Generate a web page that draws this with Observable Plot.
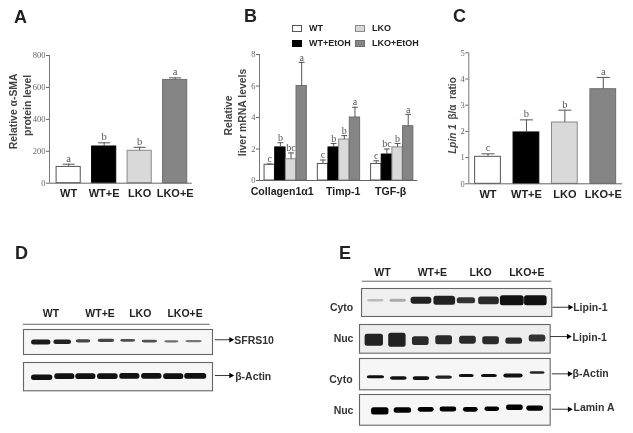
<!DOCTYPE html>
<html><head><meta charset="utf-8">
<script src="https://cdn.jsdelivr.net/npm/d3@7"></script>
<script src="https://cdn.jsdelivr.net/npm/@observablehq/plot@0.6"></script>
<style>
html,body{margin:0;padding:0;background:#fff}
#fig{position:relative;width:633px;height:433px;overflow:hidden;filter:blur(0.55px);font-family:"Liberation Sans",Arial,sans-serif;color:#222}
#fig>svg{position:absolute}
.letter{position:absolute;font-size:18px;font-weight:bold;line-height:18px}
.lg{position:absolute;font-size:9px;font-weight:bold;line-height:10px}
.sw{position:absolute;width:10px;height:7px;box-sizing:border-box;border:1px solid #555}
</style></head><body><div id="fig"></div>
<script>
// ---------- shared ----------
const groups = ["WT","WT+E","LKO","LKO+E"];
const seriesFill = ["#ffffff","#000000","#d9d9d9","#858585"];
const seriesStroke = ["#555555","#000000","#8a8a8a","#6f6f6f"];
// ---------- panel A ----------
const aValues = [102,230,203,647];
const aErrors = [119,253,225,660];
const aLetters = ["a","b","b","a"];
const aTicks = [0,200,400,600,800];
// ---------- panel B ----------
const bGenes = ["Collagen1α1","Timp-1","TGF-β"];
const bSlots = [0,1,2,3,5,6,7,8,10,11,12,13];
const bValues = [1.0,2.1,1.35,6.0, 1.05,2.1,2.6,4.0, 1.05,1.65,2.1,3.45];
const bErrors = [1.05,2.4,1.75,7.5, 1.3,2.35,2.85,4.65, 1.25,2.0,2.35,4.2];
const bLetters = ["c","b","bc","a","c","b","b","a","c","bc","b","a"];
const bTicks = [0,2,4,6,8];
const bLegend = ["WT","WT+EtOH","LKO","LKO+EtOH"];
// ---------- panel C ----------
const cValues = [1.03,1.96,2.34,3.61];
const cErrors = [1.145,2.44,2.81,4.06];
const cLetters = ["c","b","b","a"];
const cTicks = [0,1,2,3,4,5];
// ---------- panel D blots ----------
const d1Center = [.75,1.66,2.54,3.51,4.43,5.35,6.28,7.22];
const d1Width = [.82,.75,.62,.7,.63,.65,.6,.7];
const d1Y = [.52,.51,.47,.45,.45,.48,.49,.48];
const d1Thick = [.2,.18,.13,.13,.11,.11,.09,.09];
const d1Shade = ["#1c1c1c","#222","#444","#444","#505050","#505050","#707070","#777"];
const d2Center = [.79,1.75,2.64,3.57,4.5,5.43,6.36,7.29];
const d2Width = [.9,.85,.85,.87,.85,.86,.85,.93];
const d2Y = [.54,.5,.5,.5,.49,.49,.5,.49];
const d2Thick = [.2,.2,.2,.2,.2,.2,.2,.2];
const d2Shade = ["#111","#111","#111","#111","#111","#111","#111","#111"];
// ---------- panel E blots ----------
const e1Center = [.6,1.54,2.52,3.5,4.41,5.36,6.34,7.33];
const e1Width = [.7,.7,.87,.91,.77,.87,1.0,.95];
const e1Y = [.44,.44,.44,.44,.44,.44,.44,.44];
const e1Thick = [.09,.11,.25,.32,.21,.28,.36,.36];
const e1Shade = ["#bbb","#aaa","#222","#222","#333","#2a2a2a","#111","#111"];
const e2Center = [.62,1.59,2.57,3.55,4.55,5.52,6.49,7.47];
const e2Width = [.77,.73,.7,.7,.7,.7,.7,.7];
const e2Y = [.55,.55,.58,.55,.55,.57,.58,.49];
const e2Thick = [.42,.49,.31,.31,.28,.28,.21,.24];
const e2Shade = ["#222","#222","#2a2a2a","#2a2a2a","#2a2a2a","#2a2a2a","#2a2a2a","#333"];
const e3Center = [.69,1.65,2.6,3.55,4.5,5.45,6.46,7.47];
const e3Width = [.73,.7,.7,.7,.63,.67,.81,.63];
const e3Y = [.6,.64,.64,.61,.56,.56,.56,.46];
const e3Thick = [.1,.11,.12,.1,.1,.1,.13,.08];
const e3Shade = ["#111","#111","#111","#222","#111","#111","#111","#222"];
const e4Center = [.87,1.82,2.8,3.73,4.67,5.57,6.52,7.37];
const e4Width = [.73,.73,.67,.7,.62,.62,.7,.7];
const e4Y = [.55,.52,.5,.49,.5,.48,.43,.46];
const e4Thick = [.23,.18,.16,.16,.15,.14,.18,.17];
const e4Shade = ["#000","#000","#000","#000","#000","#000","#000","#000"];
const dHeader = [1.16,3.24,4.94,6.84];
const eHeader = [.88,2.98,5.01,6.95];

const fig = document.getElementById("fig");
const SANS = "Liberation Sans", SERIF = "Liberation Serif";

function place(svg,left,top){svg.style.left=left+"px";svg.style.top=top+"px";svg.style.background="transparent";fig.appendChild(svg);}

function barChart(o){
  const rows = o.values.map((v,i)=>({c:o.centers[i],v,e:o.errors[i],l:o.letters[i],k:o.kind(i)}));
  const yMax = o.yTicks[o.yTicks.length-1];
  const svg = Plot.plot({
    width:o.width,height:o.height,marginLeft:o.ml,marginRight:o.mr,marginTop:o.mt,marginBottom:o.mb,
    style:{background:"transparent",overflow:"visible"},
    x:{domain:o.xDomain},y:{domain:[0,yMax]},color:{type:"identity"},
    marks:[
      Plot.rectY(rows,{x1:d=>d.c-o.barW/2,x2:d=>d.c+o.barW/2,y1:0,y2:"v",fill:d=>seriesFill[d.k],stroke:d=>seriesStroke[d.k],strokeWidth:1}),
      Plot.ruleX(rows,{x:"c",y1:"v",y2:"e",stroke:"#555"}),
      Plot.link(rows,{x1:d=>d.c-o.capW/2,x2:d=>d.c+o.capW/2,y1:"e",y2:"e",stroke:"#555"}),
      Plot.text(rows,{x:"c",y:"e",text:"l",dy:o.letterDy,fontFamily:SERIF,fontSize:o.letterSize,fill:"#555"}),
      Plot.ruleY([0],{stroke:"#666"}),
      Plot.ruleX([o.xDomain[0]],{y1:0,y2:yMax,stroke:"#777"}),
      Plot.axisY({ticks:o.yTicks,tickFormat:"d",tickSize:3,tickPadding:1,label:null,fontFamily:SERIF,fontSize:o.tickSize||8.5,color:"#666"}),
      Plot.axisX({ticks:o.xTicks,tickFormat:d=>o.xLabels[o.xTicks.indexOf(d)],tickSize:0,tickPadding:o.xPad,label:null,fontFamily:SANS,fontWeight:"bold",fontSize:o.xFont||11,color:"#222"}),
      ...o.yLabels.map(t=>Plot.text([t.text],{frameAnchor:"left",dx:t.dx,dy:t.dy,rotate:-90,textAnchor:t.anchor||"middle",text:d=>d,fontFamily:SANS,fontWeight:"bold",fontStyle:t.italic?"italic":"normal",fontSize:o.labelSize,fill:"#444"}))
    ]
  });
  place(svg,o.left,o.top);
}

barChart({left:0,top:0,width:200,height:210,ml:49,mr:8.3,mt:55,mb:27.3,xDomain:[-.04,3.98],
  centers:[.5,1.5,2.5,3.5],values:aValues,errors:aErrors,letters:aLetters,kind:i=>i,
  barW:.68,capW:.34,letterDy:-6,letterSize:10.5,yTicks:aTicks,xTicks:[.5,1.5,2.5,3.5],xLabels:groups,xPad:6,labelSize:10.4,
  yLabels:[{text:"Relative α-SMA",dx:-36,dy:-8},{text:"protein level",dx:-22,dy:-14}]});

barChart({left:220,top:0,width:200,height:210,ml:39,mr:2.7,mt:54,mb:30,xDomain:[-.96,13.9],
  centers:bSlots,values:bValues,errors:bErrors,letters:bLetters,kind:i=>i%4,
  barW:.97,capW:.55,letterDy:-5,letterSize:10,yTicks:bTicks,xTicks:[1.17,6.9,11.35],xLabels:bGenes,xPad:7,xFont:10.6,labelSize:10.4,
  yLabels:[{text:"Relative",dx:-31,dy:-2},{text:"liver mRNA levels",dx:-16.5,dy:-5}]});

barChart({left:420,top:0,width:210,height:210,ml:48.3,mr:8,mt:52.3,mb:26.7,xDomain:[0,4],
  centers:[.5,1.5,2.5,3.5],values:cValues,errors:cErrors,letters:cLetters,kind:i=>i,
  barW:.67,capW:.34,letterDy:-6,letterSize:10.5,yTicks:cTicks,xTicks:[.5,1.5,2.5,3.5],xLabels:groups,xPad:6,labelSize:10,
  yLabels:[{text:"Lpin 1",dx:-16,dy:6,anchor:"end",italic:true},{text:" β/α  ratio",dx:-16,dy:4,anchor:"start"}]});

function blot(o){
  const rows = o.center.map((c,i)=>({c,w:o.width[i],y:o.y[i],t:o.thick[i],s:o.shade[i]}));
  const marks = [
    Plot.frame({fill:o.bg||"#f6f6f6",stroke:"#666",strokeWidth:1.1}),
    Plot.rect(rows,{x1:d=>d.c-d.w/2,x2:d=>d.c+d.w/2,y1:d=>d.y-d.t/2,y2:d=>d.y+d.t/2,fill:"s",rx:o.rx||2.5}),
    Plot.link([o.arrow],{x1:d=>d.x1,x2:d=>d.x2,y1:d=>d.y,y2:d=>d.y,stroke:"#222",strokeWidth:.9}),
    Plot.dot([o.arrow],{x:d=>d.x2,y:d=>d.y,symbol:"triangle",rotate:90,r:2.1,fill:"#000",stroke:"none"}),
    Plot.text([o.name],{x:o.nameX,y:o.nameY,text:d=>d,textAnchor:"start",fontFamily:SANS,fontWeight:"bold",fontSize:10.5,fill:"#333"})
  ];
  if(o.side) marks.push(Plot.text([o.side],{x:o.sideX,y:o.sideY,text:d=>d,fontFamily:SANS,fontWeight:"bold",fontSize:10.5,fill:"#333"}));
  if(o.header){
    marks.push(Plot.ruleY([o.ruleY],{x1:o.ruleX1,x2:o.ruleX2,stroke:"#666",strokeWidth:1}));
    marks.push(Plot.text(groups,{x:(d,i)=>o.header[i],y:()=>o.headY,text:d=>d,fontFamily:SANS,fontWeight:"bold",fontSize:10.5,fill:"#222"}));
  }
  const ml=45,mr=100,mt=30,mb=3;
  const svg = Plot.plot({
    width:ml+mr+o.w,height:mt+mb+o.h,marginLeft:ml,marginRight:mr,marginTop:mt,marginBottom:mb,
    style:{background:"transparent",overflow:"visible"},
    x:{domain:[0,8],axis:null},y:{domain:[0,1],reverse:true,axis:null},color:{type:"identity"},
    marks
  });
  place(svg,o.left-ml,o.top-mt);
}

blot({left:22.7,top:329.3,w:189,h:25,center:d1Center,width:d1Width,y:d1Y,thick:d1Thick,shade:d1Shade,
  arrow:{x1:8.1,x2:8.78,y:.41},name:"SFRS10",nameX:8.92,nameY:.43,header:dHeader,headY:-.65,ruleY:-.21,ruleX1:0,ruleX2:7.9});
blot({left:22.7,top:362.3,w:189,h:28.3,center:d2Center,width:d2Width,y:d2Y,thick:d2Thick,shade:d2Shade,
  arrow:{x1:8.1,x2:8.78,y:.46},name:"β-Actin",nameX:8.96,nameY:.51});

blot({left:360.7,top:288.3,w:190.3,h:28,center:e1Center,width:e1Width,y:e1Y,thick:e1Thick,shade:e1Shade,bg:"#f0f0f0",
  arrow:{x1:8.03,x2:8.77,y:.67},name:"Lipin-1",nameX:8.9,nameY:.67,side:"Cyto",sideX:-.84,sideY:.68,header:eHeader,headY:-.56,ruleY:-.26,ruleX1:.03,ruleX2:8});
blot({left:359.3,top:324.3,w:190.7,h:28.7,center:e2Center,width:e2Width,y:e2Y,thick:e2Thick,shade:e2Shade,bg:"#eeeeee",
  arrow:{x1:8,x2:8.77,y:.42},name:"Lipin-1",nameX:8.94,nameY:.47,side:"Nuc",sideX:-.67,sideY:.49});
blot({left:359.3,top:357.7,w:190.7,h:31.3,center:e3Center,width:e3Width,y:e3Y,thick:e3Thick,shade:e3Shade,
  arrow:{x1:8.07,x2:8.81,y:.49},name:"β-Actin",nameX:8.94,nameY:.49,side:"Cyto",sideX:-.78,sideY:.66});
blot({left:359.3,top:393.7,w:190.7,h:30.7,center:e4Center,width:e4Width,y:e4Y,thick:e4Thick,shade:e4Shade,
  arrow:{x1:8.07,x2:8.81,y:.48},name:"Lamin A",nameX:8.98,nameY:.43,side:"Nuc",sideX:-.67,sideY:.51});

// panel letters and the legend of panel B
[["A",14,8],["B",244,7],["C",453,7],["D",15,244],["E",339,244]].forEach(([t,x,y])=>{
  const d=document.createElement("div");d.className="letter";d.textContent=t;d.style.left=x+"px";d.style.top=y+"px";fig.appendChild(d);
});
const lgX=[[292,309],[292,309],[355,372],[355,372]], lgY=[24,39,24,39];
[0,1,2,3].forEach(i=>{
  const s=document.createElement("div");s.className="sw";s.style.left=lgX[i][0]+"px";s.style.top=(lgY[i]+.5)+"px";
  s.style.background=seriesFill[i];s.style.borderColor=seriesStroke[i];fig.appendChild(s);
  const t=document.createElement("div");t.className="lg";t.textContent=bLegend[i];t.style.left=lgX[i][1]+"px";t.style.top=(lgY[i]-1)+"px";fig.appendChild(t);
});
</script></body></html>
